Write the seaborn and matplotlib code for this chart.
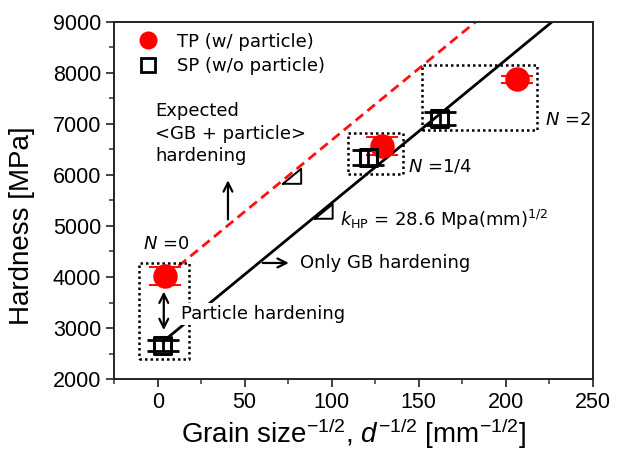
import matplotlib
matplotlib.use("Agg")
import matplotlib.pyplot as plt
from matplotlib.font_manager import FontProperties
from matplotlib.lines import Line2D
import numpy as np
import pandas as pd
import seaborn as sns

# ---- data ----
grain_tp = [4.0, 129.0, 206.7]
hard_tp = [4020, 6563, 7871]
err_tp = [175, 175, 70]

grain_sp = [3.0, 121.0, 162.2]
hard_sp = [2660, 6341, 7106]
err_sp = [115, 155, 120]

k_hp = 28.0            # slope of Hall-Petch lines
h0_gb = 2650           # intercept, only GB hardening
h0_gbp = 3880          # intercept, GB + particle hardening

x_ticks = [0, 50, 100, 150, 200, 250]
y_ticks = [2000, 3000, 4000, 5000, 6000, 7000, 8000, 9000]

# ---- style ----
sns.set_style("white")
plt.rcParams['font.family'] = ['Liberation Sans', 'DejaVu Sans']
plt.rcParams['mathtext.fontset'] = 'custom'
plt.rcParams['mathtext.rm'] = 'Liberation Sans'
plt.rcParams['mathtext.it'] = 'Liberation Sans:italic'
for key in ['text.color', 'axes.labelcolor', 'xtick.color', 'ytick.color',
            'xtick.labelcolor', 'ytick.labelcolor']:
    plt.rcParams[key] = 'black'

fig = plt.figure(figsize=(6.31, 4.54), dpi=100)
ax = fig.add_axes([0.181, 0.165, 0.758, 0.787])

ann_font = dict(family='DejaVu Sans', size=13, color='black')
ann_fp = FontProperties(family='DejaVu Sans', size=13, math_fontfamily='dejavusans')

# ---- lines ----
xg = np.linspace(3, 232, 50)
df_gb = pd.DataFrame({'x': xg, 'y': h0_gb + k_hp * xg})
xp = np.linspace(12, 190, 50)
df_gbp = pd.DataFrame({'x': xp, 'y': h0_gbp + k_hp * xp})
sns.lineplot(data=df_gb, x='x', y='y', ax=ax, color='black', lw=2.0, zorder=2)
sns.lineplot(data=df_gbp, x='x', y='y', ax=ax, color='#ff1010', lw=2.0,
             linestyle=(0, (3.5, 2.0)), zorder=2)

# ---- error bars ----
ax.errorbar(grain_tp, hard_tp, yerr=err_tp, fmt='none', ecolor='#ff1010',
            elinewidth=1.5, capsize=11.5, capthick=1.5, zorder=3)
ax.errorbar(grain_sp, hard_sp, yerr=err_sp, fmt='none', ecolor='black',
            elinewidth=2.0, capsize=11.5, capthick=2.0, zorder=3)

# ---- markers ----
df_tp = pd.DataFrame({'x': grain_tp, 'y': hard_tp})
df_sp = pd.DataFrame({'x': grain_sp, 'y': hard_sp})
sns.scatterplot(data=df_tp, x='x', y='y', ax=ax, marker='o', s=310,
                color='#ff0000', edgecolor='#ff0000', linewidth=0, zorder=4)
sns.scatterplot(data=df_sp, x='x', y='y', ax=ax, marker='s', s=150,
                facecolor='none', edgecolor='black', linewidth=2.2, zorder=4)

# ---- dotted boxes around groups ----
boxes = [(-10.5, 18.2, 2400, 4280), (109.2, 141.1, 6027, 6812), (152.1, 218.2, 6876, 8151)]
for x0, x1, y0, y1 in boxes:
    ax.plot([x0, x1, x1, x0, x0], [y0, y0, y1, y1, y0], color='black',
            lw=1.8, linestyle=(0, (1, 1.2)), zorder=2)

# ---- slope triangles ----
def tri(x0, w, y_line0, off):
    y0 = y_line0 - off
    ax.plot([x0, x0 + w, x0 + w, x0], [y0, y0, y0 + k_hp * w, y0],
            color='black', lw=1.4, zorder=2)

tri(72.0, 10.5, h0_gbp + k_hp * 72.0, 70)
tri(90.4, 10.2, h0_gb + k_hp * 90.4, 40)

# ---- annotations ----
ax.text(-1.6, 7420, 'Expected\n<GB + particle>\nhardening', ha='left', va='top',
        linespacing=1.3, **ann_font, zorder=5)
ax.annotate('', xy=(40.4, 5950), xytext=(40.4, 5073),
            arrowprops=dict(arrowstyle='->', lw=1.6, color='black', mutation_scale=16))
ax.annotate('', xy=(77, 4275), xytext=(58.8, 4275),
            arrowprops=dict(arrowstyle='->', lw=1.6, color='black', mutation_scale=16))
ax.text(81.8, 4275, 'Only GB hardening', ha='left', va='center', **ann_font)
ax.annotate('', xy=(3.5, 3770), xytext=(3.5, 2905),
            arrowprops=dict(arrowstyle='<->', lw=1.6, color='black', mutation_scale=16),
            zorder=5)
ax.text(13.5, 3278, 'Particle hardening', ha='left', va='center', **ann_font,
        bbox=dict(facecolor='white', edgecolor='none', pad=1.5), zorder=6)
ax.text(-8.4, 4641, '$N$ =0', ha='left', va='center', fontproperties=ann_fp, color='black')
ax.text(143.8, 6160, '$N$ =1/4', ha='left', va='center', fontproperties=ann_fp, color='black')
ax.text(222.6, 7073, '$N$ =2', ha='left', va='center', fontproperties=ann_fp, color='black')
ax.text(104.8, 5108, r'$k_{\mathrm{HP}}$ = 28.6 Mpa(mm)$^{1/2}$', ha='left',
        va='center', fontproperties=ann_fp, color='black')

# ---- legend ----
handles = [
    Line2D([], [], marker='o', color='#ff0000', linestyle='none', markersize=13,
           markeredgewidth=0),
    Line2D([], [], marker='s', markerfacecolor='none', markeredgecolor='black',
           linestyle='none', markersize=10, markeredgewidth=2.0),
]
leg = ax.legend(handles, ['TP (w/ particle)', 'SP (w/o particle)'], loc='upper left',
                frameon=False, prop=dict(family='DejaVu Sans', size=13),
                handlelength=1.0, handletextpad=1.1, labelspacing=0.35,
                borderaxespad=0.2, bbox_to_anchor=(0.03, 1.0))
for t in leg.get_texts():
    t.set_color('black')

# ---- axes ----
ax.set_xlim(-25, 250)
ax.set_ylim(2000, 9000)
ax.set_xticks(x_ticks)
ax.set_yticks(y_ticks)
ax.set_xticks([v + 25 for v in [-50] + x_ticks[:-1]], minor=True)
ax.set_yticks([v + 500 for v in y_ticks[:-1]], minor=True)
ax.tick_params(axis='both', which='major', direction='out', length=6, width=1.3,
               labelsize=15.5, color='#333333', labelcolor='black', left=True, bottom=True)
ax.tick_params(axis='both', which='minor', direction='out', length=3.5, width=1.1,
               color='#333333', left=True, bottom=True)
for s in ax.spines.values():
    s.set_linewidth(1.4)
    s.set_color('#222222')

ax.set_xlabel(r'Grain size$^{\mathregular{-1/2}}$, $d^{\mathregular{-1/2}}$ [mm$^{\mathregular{-1/2}}$]',
              fontsize=20, labelpad=2, color='black')
ax.set_ylabel('Hardness [MPa]', fontsize=20, labelpad=6, color='black')
ax.yaxis.set_label_coords(-0.165, 0.43)

fig.savefig('out.png', dpi=100)
